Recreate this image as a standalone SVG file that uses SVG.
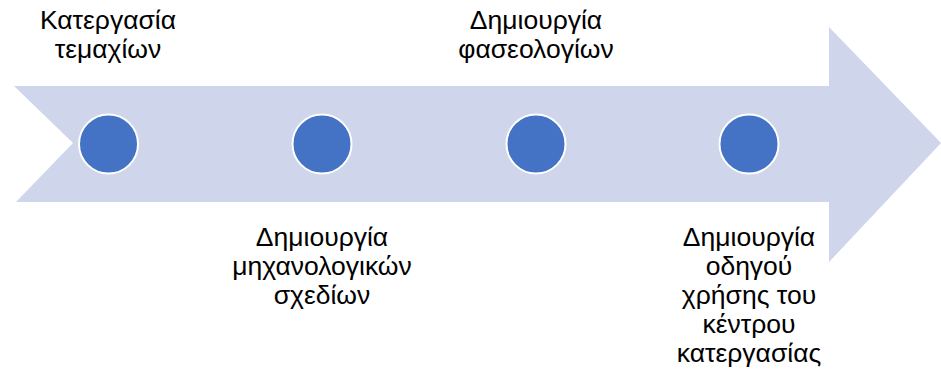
<svg xmlns="http://www.w3.org/2000/svg" width="941" height="382" viewBox="0 0 941 382">
<style>
.lbl{font-family:"Liberation Sans","Noto Sans",sans-serif;font-size:26.5px;fill:#000;text-anchor:middle}
.dot{fill:#4472C4;stroke:#fff;stroke-width:2}
</style>
<rect width="941" height="382" fill="#fff"/>
<g id="arrow">
<path d="M14,86 L829,86 L829,27 L941,143 L829,262 L829,202 L16,202 L73,143 Z" fill="#CFD5EA"/>
</g>
<g id="n1">
<circle class="dot" cx="108.5" cy="144" r="29.5"/>
<text class="lbl" x="108" y="29">Κατεργασία</text>
<text class="lbl" x="108" y="58">τεμαχίων</text>
</g>
<g id="n2">
<circle class="dot" cx="322" cy="144" r="29.5"/>
<text class="lbl" x="322" y="246">Δημιουργία</text>
<text class="lbl" x="322" y="275">μηχανολογικών</text>
<text class="lbl" x="322" y="304">σχεδίων</text>
</g>
<g id="n3">
<circle class="dot" cx="536" cy="144" r="29.5"/>
<text class="lbl" x="536" y="29">Δημιουργία</text>
<text class="lbl" x="536" y="58">φασεολογίων</text>
</g>
<g id="n4">
<circle class="dot" cx="749" cy="144" r="29.5"/>
<text class="lbl" x="749" y="246">Δημιουργία</text>
<text class="lbl" x="749" y="275">οδηγού</text>
<text class="lbl" x="749" y="304">χρήσης του</text>
<text class="lbl" x="749" y="333">κέντρου</text>
<text class="lbl" x="749" y="362">κατεργασίας</text>
</g>
<g id="connectors"></g>
</svg>
